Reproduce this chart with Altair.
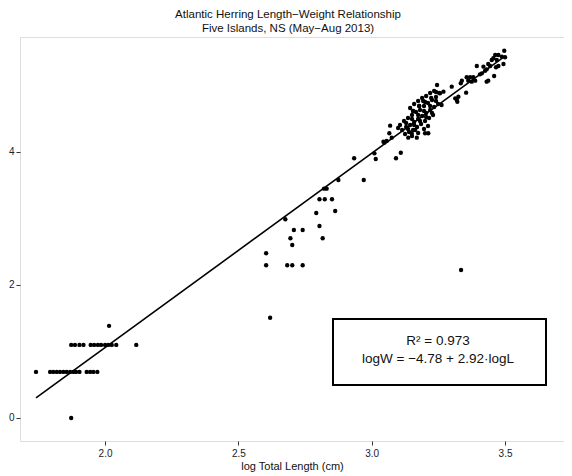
import altair as alt
import pandas as pd

# ---- data (natural log scale) ----
small_x = [1.873,
           1.741, 1.794, 1.806, 1.819, 1.831, 1.844, 1.856, 1.869, 1.881, 1.891, 1.904, 1.931, 1.944, 1.956, 1.971,
           1.873, 1.887, 1.904, 1.919, 1.946, 1.959, 1.973, 1.985, 2.000, 2.012, 2.025, 2.042, 2.117,
           2.015]
small_y = [0.0] + [0.693] * 15 + [1.099] * 13 + [1.386]

mid_x = [2.604, 2.604, 2.619, 2.683, 2.702, 2.741, 2.676, 2.695, 2.702, 2.708, 2.741, 2.792, 2.804,
         2.816, 2.863, 2.804, 2.824, 2.851, 2.821, 2.831, 2.875, 2.970, 2.934, 3.010, 3.015, 3.047, 3.335]
mid_y = [2.477, 2.296, 1.508, 2.296, 2.296, 2.296, 2.988, 2.702, 2.601, 2.827, 2.827, 3.083, 2.887,
         2.702, 3.113, 3.289, 3.289, 3.289, 3.448, 3.448, 3.579, 3.579, 3.905, 3.980, 3.895, 4.140, 2.225]

upper_x = [3.069, 3.066, 3.075, 3.044, 3.056, 3.091, 3.109, 3.137, 3.169, 3.150, 3.163, 3.200, 3.212]
upper_y = [4.396, 4.281, 4.215, 4.155, 4.165, 3.905, 3.989, 4.215, 4.215, 4.281, 4.331, 4.281, 4.281]

top_x = [3.497, 3.463, 3.475, 3.488, 3.500, 3.450, 3.456, 3.469, 3.494, 3.475, 3.466, 3.437, 3.444,
         3.431, 3.394, 3.419, 3.413, 3.425, 3.406, 3.459, 3.437, 3.431, 3.381, 3.369, 3.356, 3.388,
         3.375, 3.362, 3.338, 3.334, 3.300, 3.354, 3.269, 3.256, 3.313, 3.319, 3.325, 3.321, 3.262]
top_y = [5.523, 5.459, 5.459, 5.433, 5.424, 5.383, 5.409, 5.383, 5.323, 5.293, 5.274, 5.323, 5.293,
         5.243, 5.293, 5.283, 5.183, 5.222, 5.168, 5.143, 5.072, 5.057, 5.123, 5.123, 5.123, 5.072,
         5.057, 5.072, 5.072, 5.033, 4.982, 4.892, 4.907, 4.883, 4.807, 4.782, 4.831, 4.756, 4.707]

dense_x = [3.121, 3.136, 3.151, 3.166, 3.181, 3.196, 3.211, 3.226, 3.241,
           3.144, 3.159, 3.174, 3.189, 3.204, 3.219, 3.234,
           3.114, 3.129, 3.144, 3.159, 3.174, 3.189, 3.204, 3.219, 3.234, 3.249,
           3.125, 3.140, 3.155, 3.170, 3.185, 3.200, 3.215, 3.230,
           3.151, 3.174, 3.196, 3.211,
           3.245, 3.241, 3.253, 3.106, 3.099, 3.193, 3.178, 3.155,
           3.129, 3.151, 3.174, 3.196, 3.219, 3.241,
           3.136, 3.159, 3.181, 3.204, 3.226,
           3.155, 3.178, 3.200, 3.223]
dense_y = [4.466, 4.511, 4.556, 4.601, 4.632, 4.692, 4.737, 4.782, 4.827,
           4.662, 4.722, 4.767, 4.812, 4.842, 4.887, 4.917,
           4.331, 4.376, 4.406, 4.451, 4.496, 4.541, 4.586, 4.632, 4.677, 4.722,
           4.271, 4.301, 4.331, 4.376, 4.421, 4.466, 4.511, 4.556,
           4.240, 4.286, 4.346, 4.391,
           5.008, 4.902, 4.887, 4.406, 4.361, 4.767, 4.692, 4.617,
           4.436, 4.496, 4.556, 4.617, 4.692, 4.767,
           4.346, 4.406, 4.466, 4.526, 4.586,
           4.617, 4.692, 4.752, 4.812]

intercept = -4.78
slope = 2.92
r_squared = 0.973

x_ticks = [2.0, 2.5, 3.0, 3.5]
y_ticks = [0, 2, 4]

title_lines = ["Atlantic Herring Length\u2212Weight Relationship", "Five Islands, NS (May\u2212Aug 2013)"]
x_title = "log Total Length (cm)"
label_r2 = "R\u00b2 = " + f"{r_squared:.3f}"
label_eq = f"logW = \u2212{abs(intercept):.2f} + {slope:.2f}\u00b7logL"

# ---- tables ----
xs = small_x + mid_x + upper_x + top_x + dense_x
ys = small_y + mid_y + upper_y + top_y + dense_y
pts = pd.DataFrame({"logL": xs, "logW": ys})

lx = [min(xs), max(xs)]
fit = pd.DataFrame({"logL": lx, "logW": [intercept + slope * v for v in lx]})

FONT = "Liberation Sans"
W, H = 544, 404

xscale = alt.Scale(domain=[1.681, 3.721], nice=False, zero=False)
yscale = alt.Scale(domain=[-0.346, 5.729], nice=False, zero=False)

xaxis = alt.Axis(values=x_ticks, format=".1f", grid=False, domain=False, tickSize=4,
                 tickColor="#333", labelFontSize=10, labelColor="#222", labelPadding=3,
                 title=x_title, titleFontSize=11, titleFontWeight="normal", titleColor="#111",
                 titlePadding=2, labelFont=FONT, titleFont=FONT)
yaxis = alt.Axis(values=y_ticks, format="d", grid=False, domain=False, tickSize=4,
                 tickColor="#333", labelFontSize=10, labelColor="#222", labelPadding=2,
                 title=None, labelFont=FONT)

points = alt.Chart(pts).mark_circle(size=19, color="black", opacity=1).encode(
    x=alt.X("logL:Q", scale=xscale, axis=xaxis),
    y=alt.Y("logW:Q", scale=yscale, axis=yaxis),
)

line = alt.Chart(fit).mark_line(color="black", strokeWidth=1.6).encode(
    x=alt.X("logL:Q", scale=xscale),
    y=alt.Y("logW:Q", scale=yscale),
)

one = alt.Data(values=[{"a": 1}])
box = alt.Chart(one).mark_rect(fill="white", stroke="black", strokeWidth=2).encode(
    x=alt.value(313), x2=alt.value(526), y=alt.value(282), y2=alt.value(348)
)
t1 = alt.Chart(one).mark_text(fontSize=13.5, font=FONT, color="#111", align="center", baseline="middle").encode(
    x=alt.value(418), y=alt.value(304), text=alt.value(label_r2)
)
t2 = alt.Chart(one).mark_text(fontSize=13.5, font=FONT, color="#111", align="center", baseline="middle").encode(
    x=alt.value(418), y=alt.value(322), text=alt.value(label_eq)
)

chart = alt.layer(points, line, box, t1, t2).properties(
    width=W, height=H,
    autosize=alt.AutoSizeParams(type="none"),
    padding={"left": 12, "top": 29, "right": 0, "bottom": 34},
    title=alt.TitleParams(text=title_lines, font=FONT, fontSize=11.5, fontWeight="normal",
                          color="#111", lineHeight=13.5, offset=3, anchor="middle", dx=-4),
).configure_view(stroke="#222", strokeWidth=1.5).configure(background="white")

chart.save("out.html", embed_options={"renderer": "svg", "actions": False})
